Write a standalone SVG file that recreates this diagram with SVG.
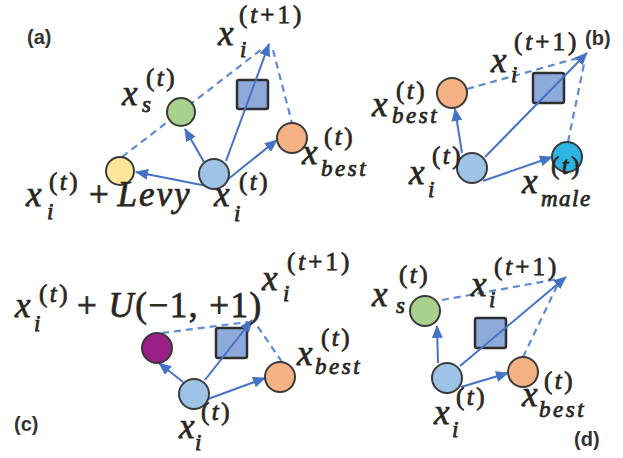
<svg xmlns="http://www.w3.org/2000/svg" width="623" height="458" viewBox="0 0 623 458">
<style>
.m{font-family:"Liberation Serif","Times New Roman",serif;font-style:italic;fill:#2a2622;stroke:#2a2622;stroke-width:0.75}
.b{font-size:35px}
.p{font-size:25px;letter-spacing:2.5px}
.p2{font-size:25px;letter-spacing:3px}
.s{font-size:23px}
.bs{font-size:23px;letter-spacing:2.5px}
.u{font-style:normal}
.i{font-style:italic}
.lbl{font-family:"Liberation Sans",Arial,sans-serif;font-weight:bold;font-size:20px;fill:#333}
.n{stroke:#3a3a3a;stroke-width:2}
.sq{fill:#8eaadb;stroke:#2e2e2e;stroke-width:2.5}
.a{fill:none;stroke:#4472c4;stroke-width:2;marker-end:url(#ah)}
.d{fill:none;stroke:#5b8bd6;stroke-width:2.2;stroke-dasharray:7 5}
</style>
<defs>
<marker id="ah" markerUnits="userSpaceOnUse" markerWidth="13" markerHeight="11" refX="12" refY="5.5" orient="auto">
<path d="M0,0 L13,5.5 L0,11 z" fill="#4472c4"/>
</marker>
</defs>
<rect width="623" height="458" fill="#fff"/>

<!-- squares -->
<g id="sq-a"><rect class="sq" x="237" y="80" width="31" height="29" rx="2"/></g>
<g id="sq-b"><rect class="sq" x="533" y="73" width="31" height="30" rx="2"/></g>
<g id="sq-c"><rect class="sq" x="216" y="328" width="31" height="30" rx="2"/></g>
<g id="sq-d"><rect class="sq" x="475" y="318" width="31" height="30" rx="2"/></g>

<g id="connectors">
<!-- (a) -->
<path class="d" d="M122,157 L262,49"/>
<path class="d" d="M273,50 L292,123"/>
<path class="a" d="M212,187 L136,172"/>
<path class="a" d="M204,162 L185,129"/>
<path class="a" d="M217,188 L277,140"/>
<path class="a" d="M226,161 L269,44"/>
<!-- (b) -->
<path class="d" d="M467,89 L578,58"/>
<path class="d" d="M568,142 L584,64"/>
<path class="a" d="M462,153 L455,109"/>
<path class="a" d="M485,157 L587,53"/>
<path class="a" d="M483,181 L552,157"/>
<!-- (c) -->
<path class="d" d="M162,333 L248,322"/>
<path class="d" d="M282,362 L256,324"/>
<path class="a" d="M183,382 L159,363"/>
<path class="a" d="M205,380 L252,320"/>
<path class="a" d="M208,399 L265,378"/>
<!-- (d) -->
<path class="d" d="M442,300 L558,279"/>
<path class="d" d="M523,357 L558,284"/>
<path class="a" d="M438,363 L437,326"/>
<path class="a" d="M460,366 L566,277"/>
<path class="a" d="M461,387 L508,373"/>
</g>

<!-- panel labels -->
<text class="lbl" x="27" y="44">(a)</text>
<text class="lbl" x="585" y="45">(b)</text>
<text class="lbl" x="14" y="431">(c)</text>
<text class="lbl" x="574" y="446">(d)</text>

<!-- (a) -->
<g id="a-next"><text class="m"><tspan class="b" x="218" y="45">x</tspan><tspan class="p2 u" x="239" y="23">(<tspan class="i">t</tspan>+1)</tspan><tspan class="s" x="240" y="57">i</tspan></text></g>
<g id="a-s"><circle class="n" cx="181" cy="112" r="14" fill="#a9d18e"/><text class="m"><tspan class="b" x="122" y="105">x</tspan><tspan class="p u" x="146" y="86">(<tspan class="i">t</tspan>)</tspan><tspan class="s" x="142" y="112">s</tspan></text></g>
<g id="a-levy"><circle class="n" cx="120" cy="171" r="14" fill="#ffe699"/><text class="m"><tspan class="b" x="26" y="206">x</tspan><tspan class="p u" x="49" y="190">(<tspan class="i">t</tspan>)</tspan><tspan class="s" x="47" y="219">i</tspan><tspan class="b u" x="89" y="206">+ <tspan class="i" style="letter-spacing:2px">Levy</tspan></tspan></text></g>
<g id="a-i"><circle class="n" cx="214" cy="174" r="15" fill="#9dc3e6"/><text class="m"><tspan class="b" x="214" y="206">x</tspan><tspan class="p u" x="239" y="190">(<tspan class="i">t</tspan>)</tspan><tspan class="s" x="234" y="221">i</tspan></text></g>
<g id="a-best"><circle class="n" cx="292" cy="138" r="15" fill="#f4b183"/><text class="m"><tspan class="b" x="302" y="164">x</tspan><tspan class="p u" x="324" y="145">(<tspan class="i">t</tspan>)</tspan><tspan class="bs" x="321" y="176">best</tspan></text></g>

<!-- (b) -->
<g id="b-next"><text class="m"><tspan class="b" x="491" y="72">x</tspan><tspan class="p2 u" x="514" y="50">(<tspan class="i">t</tspan>+1)</tspan><tspan class="s" x="511" y="82">i</tspan></text></g>
<g id="b-best"><circle class="n" cx="452" cy="93" r="15" fill="#f4b183"/><text class="m"><tspan class="b" x="372" y="116">x</tspan><tspan class="p u" x="396" y="99">(<tspan class="i">t</tspan>)</tspan><tspan class="bs" x="392" y="123">best</tspan></text></g>
<g id="b-i"><circle class="n" cx="472" cy="168" r="15" fill="#9dc3e6"/><text class="m"><tspan class="b" x="409" y="184">x</tspan><tspan class="p u" x="432" y="164">(<tspan class="i">t</tspan>)</tspan><tspan class="s" x="428" y="197">i</tspan></text></g>
<g id="b-male"><circle class="n" cx="567" cy="157" r="15" fill="#2fb5e3"/><text class="m"><tspan class="b" x="522" y="193">x</tspan><tspan class="p u" x="551" y="174">(<tspan class="i">t</tspan>)</tspan><tspan class="bs" x="541" y="206" style="letter-spacing:1.5px">male</tspan></text></g>

<!-- (c) -->
<g id="c-next"><text class="m"><tspan class="b" x="262" y="290">x</tspan><tspan class="p2 u" x="287" y="270">(<tspan class="i">t</tspan>+1)</tspan><tspan class="s" x="283" y="301">i</tspan></text></g>
<g id="c-u"><circle class="n" cx="157" cy="348" r="15" fill="#9a1f87"/><text class="m"><tspan class="b" x="15" y="317">x</tspan><tspan class="p u" x="39" y="302">(<tspan class="i">t</tspan>)</tspan><tspan class="s" x="34" y="331">i</tspan><tspan class="b u" x="77" y="317" style="letter-spacing:1.5px">+ <tspan class="i">U</tspan>(−1, +1)</tspan></text></g>
<g id="c-i"><circle class="n" cx="194" cy="394" r="15" fill="#9dc3e6"/><text class="m"><tspan class="b" x="179" y="438">x</tspan><tspan class="p u" x="201" y="420">(<tspan class="i">t</tspan>)</tspan><tspan class="s" x="195" y="450">i</tspan></text></g>
<g id="c-best"><circle class="n" cx="280" cy="377" r="15" fill="#f4b183"/><text class="m"><tspan class="b" x="297" y="365">x</tspan><tspan class="p u" x="321" y="346">(<tspan class="i">t</tspan>)</tspan><tspan class="bs" x="315" y="374">best</tspan></text></g>

<!-- (d) -->
<g id="d-next"><text class="m"><tspan class="b" x="471" y="296">x</tspan><tspan class="p2 u" x="494" y="275">(<tspan class="i">t</tspan>+1)</tspan><tspan class="s" x="489" y="307">i</tspan></text></g>
<g id="d-s"><circle class="n" cx="425" cy="311" r="15" fill="#a9d18e"/><text class="m"><tspan class="b" x="372" y="306">x</tspan><tspan class="p u" x="399" y="283">(<tspan class="i">t</tspan>)</tspan><tspan class="s" x="396" y="313">s</tspan></text></g>
<g id="d-i"><circle class="n" cx="447" cy="378" r="15" fill="#9dc3e6"/><text class="m"><tspan class="b" x="434" y="424">x</tspan><tspan class="p u" x="456" y="405">(<tspan class="i">t</tspan>)</tspan><tspan class="s" x="452" y="437">i</tspan></text></g>
<g id="d-best"><circle class="n" cx="523" cy="372" r="15" fill="#f4b183"/><text class="m"><tspan class="b" x="522" y="406">x</tspan><tspan class="p u" x="544" y="389">(<tspan class="i">t</tspan>)</tspan><tspan class="bs" x="539" y="417">best</tspan></text></g>
</svg>
